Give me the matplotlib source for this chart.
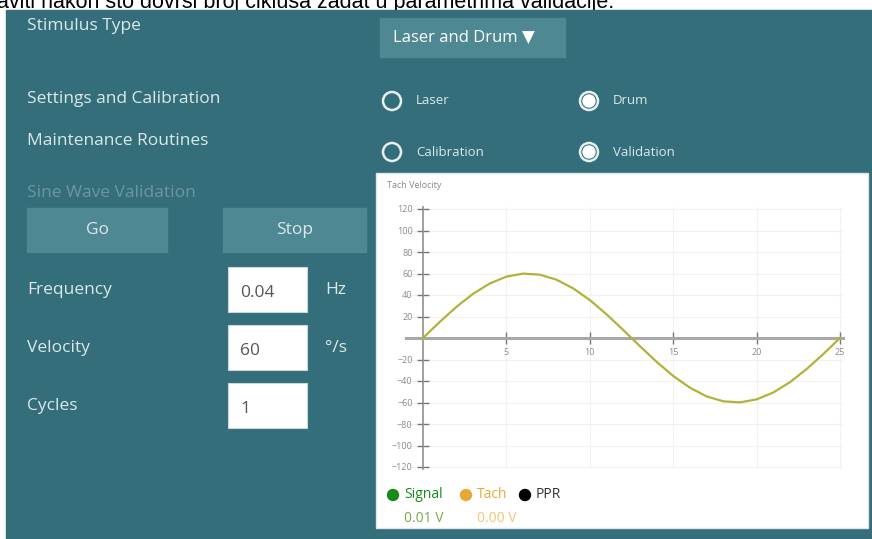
import matplotlib.pyplot as plt
from matplotlib.patches import Rectangle, Circle

# sine wave validation trace (time in s, tach velocity in deg/s)
time_s = [0, 1, 2, 3, 4, 5, 6, 7, 8, 9, 10, 11, 12, 13,
          14, 15, 16, 17, 18, 19, 20, 21, 22, 23, 24, 25]
velocity = [0, 14.9, 28.9, 41.1, 50.7, 57.1, 59.9, 58.9, 54.3, 46.2, 35.3, 22.1, 7.5, -7.5,
            -22.1, -35.3, -46.2, -54.3, -58.9, -59.9, -57.1, -50.7, -41.1, -28.9, -14.9, 0]

x_ticks = [5, 10, 15, 20, 25]
y_ticks = [-120, -100, -80, -60, -40, -20, 20, 40, 60, 80, 100, 120]

caption = "aviti nakon što dovrši broj ciklusa zadat u parametrima validacije."
row_labels = ["Stimulus Type", "Settings and Calibration", "Maintenance Routines"]
param_labels = ["Frequency", "Velocity", "Cycles"]
param_values = ["0.04", "60", "1"]
param_units = ["Hz", "°/s", ""]
legend_names = ["Signal", "Tach", "PPR"]
legend_colors = ["#1a8a1a", "#e8a838", "#000000"]
legend_values = ["0.01 V", "0.00 V"]

W, H = 872, 539
TEAL = "#336e7a"
BTN = "#4d8893"
LIGHT = "#dbe9eb"
UI_FONT = "Open Sans"
LAB_FS = 12.5

fig = plt.figure(figsize=(W / 100, H / 100), dpi=100)
bg = fig.add_axes([0, 0, 1, 1])
bg.set_xlim(0, W)
bg.set_ylim(H, 0)
bg.axis("off")

# page caption (only its lower part shows in the screenshot) and app background
bg.text(-3, 8, caption, fontsize=15.5, family="Liberation Sans", color="black",
        va="baseline", zorder=0)
bg.add_patch(Rectangle((6, 10), W - 6, H - 10, color=TEAL, zorder=1))

# left column labels
for lab, y in zip(row_labels, [26, 99, 141]):
    bg.text(27, y, lab, fontsize=LAB_FS, family=UI_FONT, color=LIGHT, va="center", zorder=3)
bg.text(27, 193, "Sine Wave Validation", fontsize=LAB_FS, family=UI_FONT, color="#6a98a2",
        va="center", zorder=3)

# dropdown
bg.add_patch(Rectangle((380, 18), 185, 39, color=BTN, zorder=2))
bg.text(393, 38, "Laser and Drum ▼", fontsize=12, family=[UI_FONT, "DejaVu Sans"], color="white",
        va="center", zorder=3)

# radio buttons
radios = [("Laser", 392, 101, False), ("Drum", 589, 101, True),
          ("Calibration", 392, 152, False), ("Validation", 589, 152, True)]
for lab, x, y, on in radios:
    bg.add_patch(Circle((x, y), 9, facecolor="none", edgecolor="#e6f0f1", lw=1.8, zorder=3))
    if on:
        bg.add_patch(Circle((x, y), 6, color="white", zorder=3))
    bg.text(x + 24, y, lab, fontsize=9.5, family=UI_FONT, color=LIGHT, va="center", zorder=3)

# Go / Stop buttons
for lab, x0, x1 in [("Go", 27, 167), ("Stop", 223, 366)]:
    bg.add_patch(Rectangle((x0, 208), x1 - x0, 44, color=BTN, zorder=2))
    bg.text((x0 + x1) / 2, 230, lab, fontsize=LAB_FS, family=UI_FONT, color=LIGHT,
            ha="center", va="center", zorder=3)

# parameter inputs
for lab, val, unit, y in zip(param_labels, param_values, param_units, [290, 348, 406]):
    bg.text(27, y, lab, fontsize=LAB_FS, family=UI_FONT, color=LIGHT, va="center", zorder=3)
    bg.add_patch(Rectangle((228, y - 23), 79, 45, facecolor="white", edgecolor="#c8d8da", lw=0.8, zorder=2))
    bg.text(240, y + 3, val, fontsize=LAB_FS, family=UI_FONT, color="#555555", va="center", zorder=3)
    if unit:
        bg.text(325, y, unit, fontsize=LAB_FS, family=UI_FONT, color=LIGHT, va="center", zorder=3)

# chart panel
bg.add_patch(Rectangle((376, 173), 492, 355, facecolor="white", edgecolor="#dde6e8", lw=1, zorder=2))
bg.text(387, 185, "Tach Velocity", fontsize=6.5, family=UI_FONT, color="#8a8a8a", va="center", zorder=3)

# legend under the chart
leg_x = [393, 466, 525]
for name, col, x in zip(legend_names, legend_colors, leg_x):
    bg.add_patch(Circle((x, 495), 5.5, color=col, zorder=3))
    txt_col = "#333333" if col == "#000000" else col
    bg.text(x + 11, 495, name, fontsize=10, family=UI_FONT, color=txt_col, va="center", zorder=3)
for val, col, x in zip(legend_values, ["#7aa84a", "#f0c870"], [404, 477]):
    bg.text(x, 518, val, fontsize=10, family=UI_FONT, color=col, va="center", zorder=3)

# the plot itself: x 0..25 -> 423..840 px, y -120..120 -> 467..209 px
px_x = (840 - 423) / 25
px_y = (467 - 209) / 240
x_lo, x_hi = -1.0, 25.2
y_lo, y_hi = -122, 122
left = 423 + x_lo * px_x
right = 423 + x_hi * px_x
top = 338 - y_hi * px_y
bottom = 338 - y_lo * px_y
ax = fig.add_axes([left / W, 1 - bottom / H, (right - left) / W, (bottom - top) / H])
ax.set_facecolor("none")
ax.set_xlim(x_lo, x_hi)
ax.set_ylim(y_lo, y_hi)

ax.plot(time_s, velocity, color="#b2b23a", lw=1.6, zorder=3)

for s in ["top", "right"]:
    ax.spines[s].set_visible(False)
ax.spines["bottom"].set_position(("data", 0))
ax.spines["left"].set_position(("data", 0))
ax.spines["bottom"].set_color("#a8a8a8")
ax.spines["bottom"].set_linewidth(2.2)
ax.spines["left"].set_color("#909090")
ax.spines["left"].set_linewidth(1.2)

ax.set_xticks(x_ticks)
ax.set_yticks(y_ticks)
ax.tick_params(direction="inout", length=8, width=1, color="#777777",
               labelsize=6.5, labelcolor="#8a8a8a")
for lab in ax.get_xticklabels() + ax.get_yticklabels():
    lab.set_family(UI_FONT)
ax.grid(color="#f1f1f1", lw=0.8)

fig.savefig("out.png", dpi=100)
